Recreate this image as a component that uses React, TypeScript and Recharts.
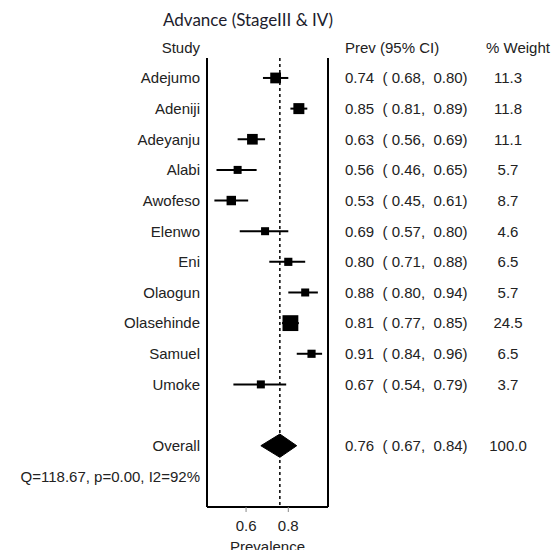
import React from 'react';
import {
  ScatterChart,
  Scatter,
  ErrorBar,
  XAxis,
  YAxis,
  ReferenceLine,
} from 'recharts';

// studies, in plotted order
const studies = [
  'Adejumo', 'Adeniji', 'Adeyanju', 'Alabi', 'Awofeso', 'Elenwo',
  'Eni', 'Olaogun', 'Olasehinde', 'Samuel', 'Umoke',
];
const prev = [0.74, 0.85, 0.63, 0.56, 0.53, 0.69, 0.80, 0.88, 0.81, 0.91, 0.67];
const ciLow = [0.68, 0.81, 0.56, 0.46, 0.45, 0.57, 0.71, 0.80, 0.77, 0.84, 0.54];
const ciHigh = [0.80, 0.89, 0.69, 0.65, 0.61, 0.80, 0.88, 0.94, 0.85, 0.96, 0.79];
const weights = [11.3, 11.8, 11.1, 5.7, 8.7, 4.6, 6.5, 5.7, 24.5, 6.5, 3.7];

const overall = { est: 0.76, lo: 0.67, hi: 0.84, weight: 100.0 };
const heterogeneity = 'Q=118.67, p=0.00, I2=92%';
const xTicks = [0.6, 0.8];

const X_DOMAIN: [number, number] = [0.415, 0.988];
const Y_DOMAIN: [number, number] = [-1.5, 14];
const HEADER_ROW = -1;
const OVERALL_ROW = 12;
const Q_ROW = 13;
const BOX_TOP = -0.65;

const studyRows = studies.map((name, i) => ({
  row: i,
  name,
  est: prev[i],
  err: [+(prev[i] - ciLow[i]).toFixed(2), +(ciHigh[i] - prev[i]).toFixed(2)],
  w: weights[i],
}));

const diamondRows = [
  { est: overall.lo, row: OVERALL_ROW },
  { est: overall.est, row: OVERALL_ROW - 0.38 },
  { est: overall.hi, row: OVERALL_ROW },
  { est: overall.est, row: OVERALL_ROW + 0.38 },
];

const fmt = (v: number) => v.toFixed(2);

const leftLabel = (row: number) => {
  if (row === HEADER_ROW) return 'Study';
  if (row === OVERALL_ROW) return 'Overall';
  if (row === Q_ROW) return heterogeneity;
  return studies[row] ?? '';
};

const FONT = "'Liberation Sans', Arial, sans-serif";
const TXT = '#222';

const LeftTick = (props: any) => {
  const { x, y, payload } = props;
  return (
    <text
      x={x}
      y={y}
      dy="0.355em"
      textAnchor="end"
      fontFamily={FONT}
      fontSize={15}
      fill={TXT}
    >
      {leftLabel(payload.value)}
    </text>
  );
};

const RightTick = (props: any) => {
  const { x, y, payload } = props;
  const row = payload.value;
  let a = '';
  let b = '';
  if (row === HEADER_ROW) {
    a = 'Prev (95% CI)';
  } else if (row === OVERALL_ROW) {
    a = `${fmt(overall.est)}  ( ${fmt(overall.lo)},  ${fmt(overall.hi)})`;
    b = overall.weight.toFixed(1);
  } else if (row >= 0 && row < studies.length) {
    a = `${fmt(prev[row])}  ( ${fmt(ciLow[row])},  ${fmt(ciHigh[row])})`;
    b = weights[row].toFixed(1);
  }
  return (
    <g fontFamily={FONT} fontSize={15} fill={TXT}>
      <text x={x} y={y} dy="0.355em" style={{ whiteSpace: 'pre' }}>
        {a}
      </text>
      {row === HEADER_ROW ? (
        <text x={x + 173} y={y} dy="0.355em" textAnchor="middle">
          % Weight
        </text>
      ) : (
        <text x={x + 163} y={y} dy="0.355em" textAnchor="middle">
          {b}
        </text>
      )}
    </g>
  );
};

const Square = (props: any) => {
  const { cx, cy, payload } = props;
  const s = Math.max(8, 3.2 * Math.sqrt(payload.w));
  return <rect x={cx - s / 2} y={cy - s / 2} width={s} height={s} fill="#000" />;
};

const rowTicks = [HEADER_ROW, ...studies.map((_, i) => i), OVERALL_ROW, Q_ROW];

export default function App() {
  return (
    <div style={{ position: 'absolute', left: 0, top: 0, width: 555, height: 550, background: '#fff' }}>
      <div
        style={{
          position: 'absolute',
          left: 148,
          width: 200,
          top: 9,
          textAlign: 'center',
          fontFamily: 'Lato, sans-serif',
          fontSize: 17,
          color: '#1c1c2c',
          whiteSpace: 'nowrap',
        }}
      >
        Advance (StageIII &amp; IV)
      </div>
      <ScatterChart
        width={555}
        height={550}
        margin={{ top: 32, right: 27, bottom: 0, left: 147 }}
      >
        <XAxis
          type="number"
          dataKey="est"
          domain={X_DOMAIN}
          allowDataOverflow
          ticks={xTicks}
          tickFormatter={(v: number) => v.toFixed(1)}
          height={43}
          axisLine={{ stroke: '#000', strokeWidth: 2 }}
          tickLine={{ stroke: '#888' }}
          tickSize={5}
          tickMargin={8}
          tick={{ fontFamily: FONT, fontSize: 15, fill: TXT }}
          label={{
            value: 'Prevalence',
            position: 'insideBottom',
            offset: -2,
            style: { fontFamily: FONT, fontSize: 15, fill: TXT },
          }}
        />
        <YAxis
          yAxisId="left"
          type="number"
          dataKey="row"
          domain={Y_DOMAIN}
          allowDataOverflow
          reversed
          ticks={rowTicks}
          interval={0}
          width={60}
          axisLine={false}
          tickLine={false}
          tickSize={0}
          tickMargin={7}
          tick={<LeftTick />}
        />
        <YAxis
          yAxisId="right"
          orientation="right"
          type="number"
          dataKey="row"
          domain={Y_DOMAIN}
          allowDataOverflow
          reversed
          ticks={rowTicks}
          interval={0}
          width={200}
          axisLine={false}
          tickLine={false}
          tickSize={0}
          tickMargin={17}
          tick={<RightTick />}
        />
        <ReferenceLine
          yAxisId="left"
          ifOverflow="visible"
          segment={[{ x: X_DOMAIN[0], y: BOX_TOP }, { x: X_DOMAIN[0], y: Y_DOMAIN[1] }]}
          stroke="#000"
          strokeWidth={2}
        />
        <ReferenceLine
          yAxisId="left"
          ifOverflow="visible"
          segment={[{ x: X_DOMAIN[1], y: BOX_TOP }, { x: X_DOMAIN[1], y: Y_DOMAIN[1] }]}
          stroke="#000"
          strokeWidth={2}
        />
        <ReferenceLine
          yAxisId="left"
          ifOverflow="visible"
          segment={[{ x: overall.est, y: BOX_TOP }, { x: overall.est, y: Y_DOMAIN[1] }]}
          stroke="#000"
          strokeWidth={1.5}
          strokeDasharray="3 3"
        />
        <Scatter
          yAxisId="left"
          data={studyRows}
          shape={<Square />}
          isAnimationActive={false}
        >
          <ErrorBar dataKey="err" direction="x" width={0} stroke="#000" strokeWidth={2} />
        </Scatter>
        <Scatter
          yAxisId="right"
          data={diamondRows}
          shape={() => <g />}
          line={{ fill: '#000', stroke: '#000', strokeWidth: 1 }}
          lineType="joint"
          lineJointType="linearClosed"
          fill="#000"
          isAnimationActive={false}
        />
      </ScatterChart>
    </div>
  );
}
